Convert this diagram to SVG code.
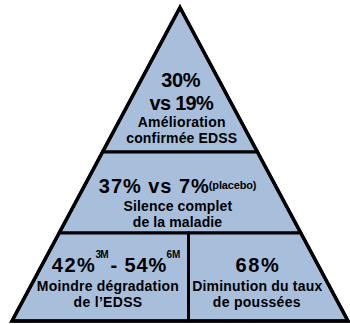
<svg xmlns="http://www.w3.org/2000/svg" width="350" height="324" viewBox="0 0 350 324">
<style>
.sec{fill:#a8bfdc;stroke:#000;stroke-width:3;stroke-linejoin:miter}
.outline{fill:none;stroke:#000;stroke-width:3.5;stroke-linejoin:miter}
text{font-family:"Liberation Sans",Arial,sans-serif;font-weight:bold;fill:#000}
.big{font-size:20px}
.small{font-size:14px}
.sup{font-size:10px}
.pl{font-size:11px}
</style>
<rect width="350" height="324" fill="#fff"/>
<g id="tier-top">
<polygon class="sec" points="180,7.5 257.4,152 102.6,152"/>
<text class="big" x="161.2" y="86.5" textLength="39.3">30%</text>
<text class="big" x="149.5" y="110" textLength="64.3">vs 19%</text>
<text class="small" x="137.8" y="126.7" textLength="87.7">Amélioration</text>
<text class="small" x="126.2" y="143.3" textLength="111">confirmée EDSS</text>
</g>
<g id="tier-middle">
<polygon class="sec" points="102.6,152 257.4,152 300.8,233 59.2,233"/>
<text class="big" x="98.8" y="193.3" textLength="110">37% vs 7%</text>
<text class="pl" x="208.8" y="189" textLength="47.7">(placebo)</text>
<text class="small" x="123.5" y="210.7" textLength="108.7">Silence complet</text>
<text class="small" x="132.8" y="227.3" textLength="89.3">de la maladie</text>
</g>
<g id="tier-bottom-left">
<polygon class="sec" points="59.2,233 188.5,233 188.5,321 12,321"/>
<text class="big" x="51.8" y="272.3" textLength="43">42%</text>
<text class="sup" x="95.5" y="258.3" textLength="13">3M</text>
<text class="big" x="110.5" y="272.3" textLength="55.7">- 54%</text>
<text class="sup" x="166.5" y="258.3" textLength="13.8">6M</text>
<text class="small" x="36.8" y="290.7" textLength="142">Moindre dégradation</text>
<text class="small" x="73.5" y="306.7" textLength="68.7">de l’EDSS</text>
</g>
<g id="tier-bottom-right">
<polygon class="sec" points="188.5,233 300.8,233 348,321 188.5,321"/>
<text class="big" x="235.5" y="272.3" textLength="43.3">68%</text>
<text class="small" x="192.2" y="290.7" textLength="130">Diminution du taux</text>
<text class="small" x="212.8" y="306.7" textLength="87.7">de poussées</text>
</g>
<g id="outline">
<polygon class="outline" points="180,7.5 348,321 12,321"/>
</g>
</svg>
